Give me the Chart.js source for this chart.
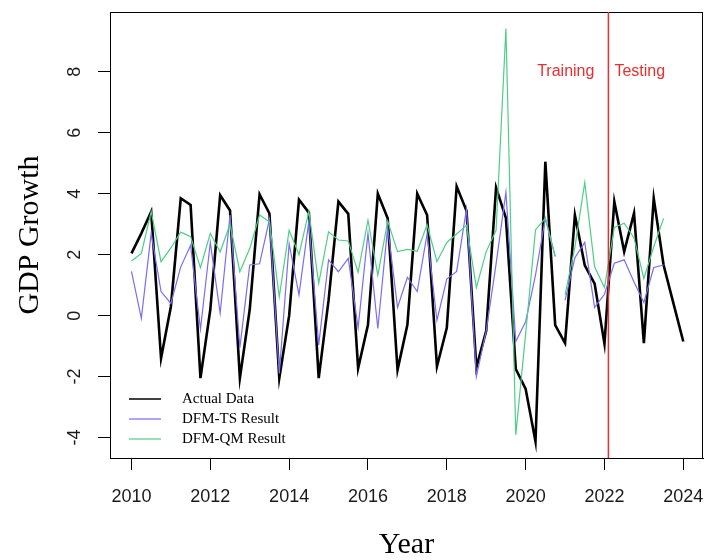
<!DOCTYPE html>
<html>
<head>
<meta charset="utf-8">
<script src="https://cdn.jsdelivr.net/npm/chart.js@4.4.0/dist/chart.umd.min.js"></script>
<style>
  html, body { margin: 0; padding: 0; background: #fff; }
  canvas { display: block; }
</style>
</head>
<body>
<canvas id="chart" width="704" height="560"></canvas>
<script>
// quarterly series, first point = 2010 Q1
const startYear = 2010;
const actual = [
  2.04, 2.7, 3.41, -1.4, 0.3, 3.85, 3.63, -2.05, 0.2, 3.95,
  3.45, -2.05, 0.2, 3.98, 3.35, -2.05, 0.0, 3.8, 3.38, -2.05,
  0.5, 3.74, 3.34, -1.73, -0.3, 4.0, 3.19, -1.78, -0.3, 4.0,
  3.3, -1.67, -0.4, 4.24, 3.44, -1.7, -0.5, 4.2, 3.2, -1.75,
  -2.4, -4.13, 5.05, -0.31, -0.9, 3.3, 1.65, 1.05, -0.92, 3.74,
  2.1, 3.36, -0.9, 3.85, 1.66, 0.4, -0.85
];
const dfmTs = [
  1.45, -0.09, 2.7, 0.79, 0.4, 1.6, 2.3, -0.45, 2.4, 0.08,
  3.3, -1.05, 1.66, 1.7, 3.16, -1.9, 2.35, 0.68, 3.1, -0.96,
  1.83, 1.44, 1.88, -0.4, 2.7, -0.42, 2.9, 0.27, 1.26, 0.79,
  2.68, -0.15, 1.2, 1.45, 3.5, -2.0, -0.5, 1.7, 4.05, -0.85,
  -0.2, 1.33, 3.19, 1.95, 0.5, 1.9, 2.4, 0.27, 0.7, 1.72,
  1.83, 1.1, 0.43, 1.58, 1.66
];
const dfmQm = [
  1.79, 2.04, 3.41, 1.77, 2.22, 2.74, 2.59, 1.57, 2.7, 2.09,
  3.0, 1.44, 2.2, 3.3, 3.08, 0.62, 2.8, 2.0, 3.42, 1.06,
  2.75, 2.48, 2.45, 1.42, 3.13, 1.33, 3.1, 2.1, 2.17, 2.11,
  2.98, 1.77, 2.4, 2.68, 2.96, 0.92, 2.1, 2.8, 9.42, -3.91,
  -0.6, 2.81, 3.19, 1.93, 0.68, 2.25, 4.37, 1.6, 0.92, 2.89,
  3.03, 2.55, 1.22, 2.26, 3.19
];
const gapAfter = 43;              // DFM lines break after this quarter
const splitYear = 2022.1;         // training / testing split
const seriesNames = ['Actual Data', 'DFM-TS Result', 'DFM-QM Result'];
const seriesColors = ['#000000', '#7b6cf6', '#4ccf86'];
const xTicks = [2010, 2012, 2014, 2016, 2018, 2020, 2022, 2024];
const yTicks = [-4, -2, 0, 2, 4, 6, 8];

const toPoints = arr => arr.map((v, i) => ({ x: startYear + i / 4, y: v }));
const gapColor = (color) => ctx => ctx.p0DataIndex === gapAfter ? 'rgba(0,0,0,0)' : color;

const serif = "'Liberation Serif', 'Times New Roman', serif";
const sans = "'Liberation Sans', Arial, sans-serif";

const decor = {
  id: 'decor',
  afterDraw(chart) {
    const { ctx, chartArea: a, scales: { x, y } } = chart;
    ctx.save();
    // plot box
    ctx.strokeStyle = '#000';
    ctx.lineWidth = 1;
    ctx.strokeRect(Math.round(a.left) + 0.5, Math.round(a.top) + 0.5,
      Math.round(a.right - a.left) - 1, Math.round(a.bottom - a.top));

    // split line
    const sx = x.getPixelForValue(splitYear);
    ctx.strokeStyle = '#e63030';
    ctx.lineWidth = 1.5;
    ctx.beginPath();
    ctx.moveTo(sx, a.top);
    ctx.lineTo(sx, a.bottom);
    ctx.stroke();

    ctx.fillStyle = '#e63030';
    ctx.font = '16px ' + sans;
    ctx.textBaseline = 'middle';
    const ty = y.getPixelForValue(8);
    ctx.textAlign = 'right';
    ctx.fillText('Training', sx - 14, ty);
    ctx.textAlign = 'left';
    ctx.fillText('Testing', sx + 6, ty);

    // y tick labels, rotated like R
    ctx.fillStyle = '#1a1a1a';
    ctx.font = '18px ' + sans;
    ctx.textAlign = 'center';
    yTicks.forEach(v => {
      ctx.save();
      ctx.translate(75, y.getPixelForValue(v));
      ctx.rotate(-Math.PI / 2);
      ctx.fillText(String(v), 0, 0);
      ctx.restore();
    });

    // axis titles
    ctx.fillStyle = '#000';
    ctx.font = '30px ' + serif;
    ctx.fillText('Year', (a.left + a.right) / 2, 545);
    ctx.save();
    ctx.translate(30, (a.top + a.bottom) / 2);
    ctx.rotate(-Math.PI / 2);
    ctx.fillText('GDP Growth', 0, 0);
    ctx.restore();

    // legend
    ctx.font = '15px ' + serif;
    ctx.textAlign = 'left';
    seriesNames.forEach((name, i) => {
      const ly = 399 + i * 20;
      ctx.strokeStyle = seriesColors[i];
      ctx.lineWidth = i === 0 ? 1.5 : 1.2;
      ctx.beginPath();
      ctx.moveTo(129, ly);
      ctx.lineTo(161, ly);
      ctx.stroke();
      ctx.fillStyle = '#000';
      ctx.fillText(name, 182, ly);
    });
    ctx.restore();
  }
};

new Chart(document.getElementById('chart'), {
  type: 'line',
  data: {
    datasets: [
      {
        label: seriesNames[0],
        data: toPoints(actual),
        borderColor: seriesColors[0],
        borderWidth: 2.6,
        order: 3
      },
      {
        label: seriesNames[1],
        data: toPoints(dfmTs),
        borderColor: seriesColors[1],
        borderWidth: 1.2,
        segment: { borderColor: gapColor(seriesColors[1]) },
        order: 2
      },
      {
        label: seriesNames[2],
        data: toPoints(dfmQm),
        borderColor: seriesColors[2],
        borderWidth: 1.2,
        segment: { borderColor: gapColor(seriesColors[2]) },
        order: 1
      }
    ]
  },
  options: {
    responsive: false,
    devicePixelRatio: 1,
    animation: false,
    events: [],
    elements: { point: { radius: 0 }, line: { tension: 0, fill: false } },
    layout: { padding: { top: 12, right: 1, left: 0, bottom: 0 } },
    plugins: { legend: { display: false }, tooltip: { enabled: false } },
    scales: {
      x: {
        type: 'linear',
        min: 2009.455,
        max: 2024.5,
        afterBuildTicks: s => { s.ticks = xTicks.map(v => ({ value: v })); },
        afterFit: s => { s.height = 102; s.paddingLeft = 0; s.paddingRight = 0; },
        grid: { drawOnChartArea: false, drawTicks: true, tickLength: 12, color: '#000' },
        border: { display: true, color: '#000' },
        ticks: {
          font: { family: sans, size: 18 },
          color: '#1a1a1a',
          padding: 16,
          maxRotation: 0,
          autoSkip: false,
          callback: v => String(v)
        }
      },
      y: {
        type: 'linear',
        min: -4.67,
        max: 9.96,
        afterBuildTicks: s => { s.ticks = yTicks.map(v => ({ value: v })); },
        afterFit: s => { s.width = 110; s.paddingTop = 0; s.paddingBottom = 0; },
        grid: { drawOnChartArea: false, drawTicks: true, tickLength: 12, color: '#000' },
        border: { display: true, color: '#000' },
        ticks: { display: false }
      }
    }
  },
  plugins: [decor]
});
</script>
</body>
</html>
